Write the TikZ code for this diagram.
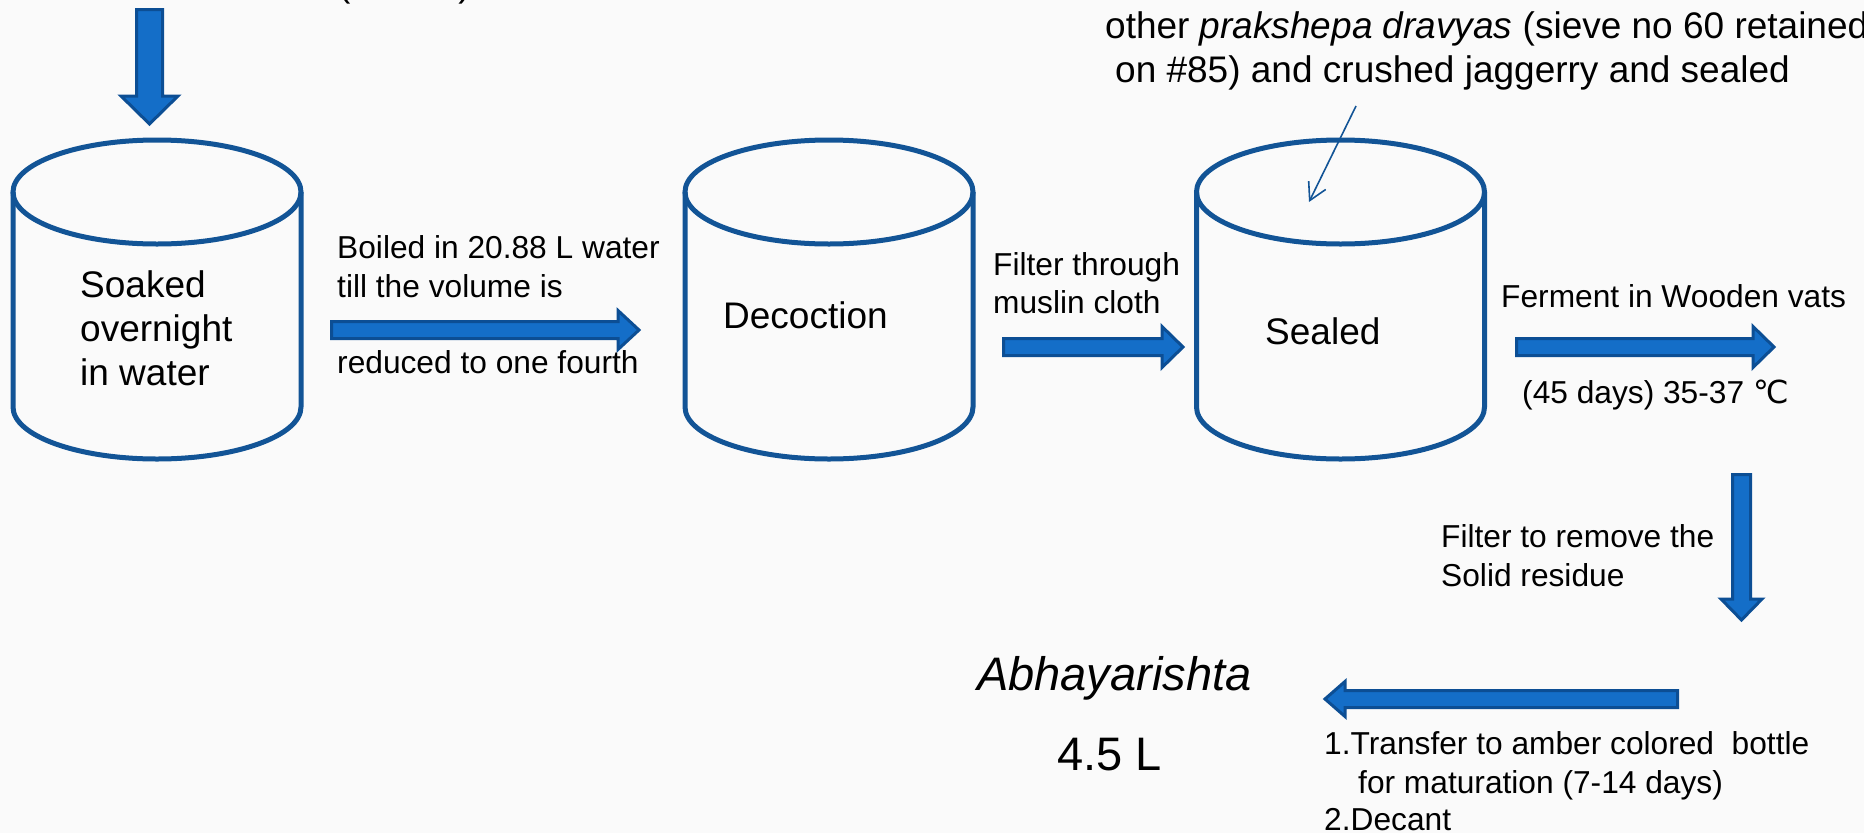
\documentclass[tikz,border=0pt]{standalone}
\usepackage{fontspec}
\setmainfont{Liberation Sans}
\newfontfamily\djv{DejaVu Sans}
\usetikzlibrary{arrows.meta}
\definecolor{cylblue}{RGB}{18,84,150}
\definecolor{arrfill}{RGB}{20,110,200}
\definecolor{arredge}{RGB}{12,78,148}
\definecolor{bgcol}{RGB}{250,250,250}
\newcommand\drum[2]{%
  \coordinate (#1) at (#2,300);
  \draw[cyl] (#2,192) ellipse [x radius=144pt, y radius=52pt];
  \draw[cyl] (#2-144,192) -- (#2-144,407)
     arc[start angle=180, end angle=360, x radius=144pt, y radius=52pt] -- (#2+144,192);
}
% horizontal block arrow: name, x start, x tip, y, shaft half, head half, head length (signed)
\newcommand\harrow[7]{%
  \coordinate (#1) at ({(#2+#3)/2},#4);
  \draw[blockarrow] (#2,#4-#5) -- (#3-#7,#4-#5) -- (#3-#7,#4-#6) -- (#3,#4)
     -- (#3-#7,#4+#6) -- (#3-#7,#4+#5) -- (#2,#4+#5) -- cycle;
}
% vertical block arrow: name, x, y start, y tip, shaft half, head half, head length (signed)
\newcommand\varrow[7]{%
  \coordinate (#1) at (#2,{(#3+#4)/2});
  \draw[blockarrow] (#2-#5,#3) -- (#2-#5,#4-#7) -- (#2-#6,#4-#7) -- (#2,#4)
     -- (#2+#6,#4-#7) -- (#2+#5,#4-#7) -- (#2+#5,#3) -- cycle;
}
\begin{document}
\begin{tikzpicture}[x=1pt,y=-1pt,
  cyl/.style={draw=cylblue, line width=5pt},
  blockarrow/.style={draw=arredge, fill=arrfill, line width=3pt, line join=miter},
  lbl/.style={anchor=base west, inner sep=0pt, font=\fontsize{31.7}{38}\selectfont},
  mid/.style={anchor=base west, inner sep=0pt, font=\fontsize{37}{44}\selectfont},
  prod/.style={anchor=base west, inner sep=0pt, font=\fontsize{47}{56}\selectfont},
  finearrow/.style={draw=cylblue, line width=1.6pt, -{Straight Barb[length=17pt,width=19pt]}}
]
\fill[bgcol] (0,0) rectangle (1864,833);
\useasboundingbox (0,0) rectangle (1864,833);

% cylinders
\drum{c1}{157}
\drum{c2}{829}
\drum{c3}{1340.5}

% cylinder texts
\node[mid] (t1a) at (80,297) {Soaked};
\node[mid] (t1b) at (80,341) {overnight};
\node[mid] (t1c) at (80,385) {in water};
\node[mid] (t2) at (723,328) {Decoction};
\node[mid] (t3) at (1265,344) {Sealed};

% top texts
\node[mid] (topL) at (338,-4) {(\hspace{108pt})};
\node[mid] (top1) at (1105,38) {other \textit{prakshepa dravyas} (sieve no 60 retained};
\node[mid] (top2) at (1115,82) {on \#85) and crushed jaggerry and sealed};

% thin arrow
\coordinate (ts) at (1356,106);
\coordinate (te) at (1309,202);
\draw[finearrow] (ts) -- (te);

% block arrows
\varrow{a0}{149.5}{9.5}{124}{13}{28.5}{28}
\harrow{a1}{331.5}{639}{330}{8.5}{19.5}{21}
\harrow{a2}{1003.5}{1183}{347}{8.5}{20.5}{21}
\harrow{a3}{1516.5}{1774}{347}{8.5}{20.5}{21}
\varrow{a4}{1741.5}{474.5}{620}{9}{20.5}{21}
\harrow{a5}{1677.5}{1325}{699}{8.5}{17.5}{-20}

% arrow labels
\node[lbl] (l1a) at (337,258) {Boiled in 20.88 L water};
\node[lbl] (l1b) at (337,297) {till the volume is};
\node[lbl] (l1c) at (337,373) {reduced to one fourth};
\node[lbl] (l2a) at (993,275) {Filter through};
\node[lbl] (l2b) at (993,313) {muslin cloth};
\node[lbl] (l3a) at (1501,307) {Ferment in Wooden vats};
\node[lbl] (l3b) at (1522,403) {(45 days) 35-37 {\djv ℃}};
\node[lbl] (l4a) at (1441,547) {Filter to remove the};
\node[lbl] (l4b) at (1441,586) {Solid residue};
\node[lbl] (l5a) at (1324,754) {1.Transfer to amber colored\ \ bottle};
\node[lbl] (l5b) at (1358,793) {for maturation (7-14 days)};
\node[lbl] (l5c) at (1324,830) {2.Decant};

% product
\node[prod] (p1) at (977,690) {\textit{Abhayarishta}};
\node[prod] (p2) at (1057,770) {4.5 L};
\end{tikzpicture}
\end{document}
